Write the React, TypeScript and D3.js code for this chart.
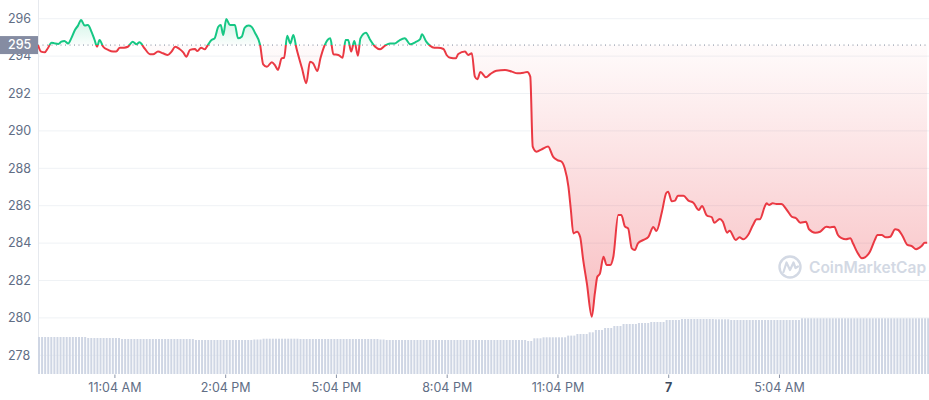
import React from "react";
import * as d3 from "d3";

// ---- data ----
const startTime = new Date(2022, 10, 6, 8, 59);
const totalMinutes = 1448;

// [minutes since start, price]
const priceSeries: [number, number][] = [
  [0,294.59],[5,294.24],[11,294.20],[16,294.42],[22,294.72],[27,294.68],[33,294.65],[38,294.77],[43,294.81],[49,294.68],[54,294.95],[60,295.40],[65,295.63],[70,295.93],[76,295.63],[81,295.66],[87,295.30],[92,294.86],[96,294.50],[100,294.86],[106,294.50],[114,294.33],[122,294.24],[127,294.24],[133,294.45],[140,294.45],[146,294.50],[154,294.77],[160,294.63],[165,294.74],[173,294.42],[182,294.10],[187,294.10],[195,294.24],[203,294.15],[211,294.06],[217,294.24],[223,294.50],[230,294.38],[236,294.20],[241,293.97],[247,294.33],[255,294.38],[259,294.27],[265,294.45],[271,294.36],[276,294.59],[282,294.86],[287,294.95],[293,295.57],[297,295.66],[301,295.13],[306,295.98],[312,295.66],[320,295.66],[325,294.95],
  [331,295.04],[336,295.52],[342,295.63],[347,295.57],[353,295.22],[361,294.59],[366,293.56],[372,293.43],[380,293.67],[385,293.52],[390,293.26],[396,293.88],[400,293.91],[405,295.09],[410,294.68],[415,295.13],[420,294.42],[429,293.35],[436,292.55],[442,293.70],[447,293.62],[454,293.20],[459,293.88],[466,294.59],[475,294.95],[480,294.10],[488,294.06],[495,293.91],[500,294.86],[504,294.86],[509,294.24],[514,294.81],[520,294.02],[524,294.95],[533,295.25],[540,294.86],[548,294.50],[556,294.36],[564,294.56],[572,294.68],[580,294.68],[588,294.86],[596,294.95],[605,294.63],[613,294.74],[621,294.91],[624,295.17],[631,294.77],[637,294.56],[644,294.45],[650,294.45],[659,294.38],[664,294.06],[670,293.91],
  [679,293.88],[683,294.11],[694,294.24],[699,294.06],[705,294.15],[710,292.90],[714,292.76],[719,293.15],[728,292.87],[735,293.04],[745,293.22],[759,293.26],[770,293.17],[779,293.08],[789,293.11],[795,293.15],[800,292.90],[804,289.16],[810,288.89],[819,289.02],[829,289.16],[837,288.62],[844,288.44],[851,288.35],[856,288.00],[862,287.02],[866,285.77],[870,284.52],[876,284.61],[881,284.34],[886,283.10],[892,281.85],[900,280.06],[905,281.32],[909,282.20],[913,282.35],[919,283.27],[924,282.83],[930,282.83],[935,283.27],[943,285.50],[948,285.50],[954,284.88],[959,284.79],[965,283.72],[970,283.63],[975,283.99],[984,284.17],[992,284.33],[1000,284.86],[1005,284.65],[1014,285.68],[1021,286.68],[1024,286.75],[1030,286.24],[1035,286.27],[1040,286.53],[1049,286.53],[1057,286.27],[1065,286.16],[1074,285.77],[1079,285.98],[1087,285.48],[1095,285.38],[1099,285.09],[1108,285.29],[1113,285.14],[1120,284.56],[1124,284.66],[1134,284.17],[1140,284.31],[1146,284.20],[1154,284.43],[1162,284.97],[1168,285.27],[1173,285.27],[1181,285.95],[1184,286.13],[1188,286.04],[1194,286.13],[1200,286.09],[1208,286.09],[1217,285.77],[1225,285.41],[1232,285.33],[1239,285.09],[1248,285.14],[1253,284.74],[1263,284.56],[1271,284.61],[1281,284.88],[1287,284.84],[1294,284.88],[1300,284.43],[1306,284.26],[1313,284.20],[1320,284.26],[1325,283.95],[1331,283.54],[1339,283.19],[1344,283.24],[1352,283.54],[1360,284.17],[1364,284.43],[1371,284.43],[1378,284.31],[1385,284.34],[1393,284.74],[1398,284.70],[1405,284.38],[1413,283.90],[1420,283.84],[1427,283.67],[1436,283.84],[1441,284.02],[1445,284.02],
];

const openPrice = 294.59;

// volume (millions) per 5-minute bar, run-length: [value, number of bars]
const volumeRuns: [number, number][] = [
  [370,16],[360,11],[350,24],[340,19],[345,3],[353,12],[350,26],[345,2],[340,46],[330,2],[357,3],[367,8],[384,3],[400,4],[417,2],[440,3],[460,3],[480,3],[500,5],[510,4],[520,5],[540,5],[550,11],[547,5],[540,23],[557,42],
];
const volumeBarMinutes = 5;

const yTicks = [278, 280, 282, 284, 286, 288, 290, 292, 294, 296];
const xTickMinutes = [125, 305, 485, 665, 845, 1025, 1205];
const xTickLabels = ["11:04 AM", "2:04 PM", "5:04 PM", "8:04 PM", "11:04 PM", "7", "5:04 AM"];

const UP = "#16c784";
const DOWN = "#ea3943";

export default function App() {
  const W = 929, H = 400;
  const left = 38, right = 929, top = 0, bottom = 374;

  const t = (m: number) => d3.timeMinute.offset(startTime, m);
  const x = d3.scaleTime().domain([startTime, t(totalMinutes)]).range([left, right]);
  const y = d3.scaleLinear().domain([277, 297]).range([bottom, top]);
  const yVol = d3.scaleLinear().domain([0, 1000]).range([bottom, bottom - 100]);

  const pts = priceSeries.map(([m, p]) => ({ d: t(m), p }));
  const baseY = y(openPrice);

  const line = d3.line<{ d: Date; p: number }>()
    .x((d) => x(d.d)).y((d) => y(d.p)).curve(d3.curveMonotoneX);
  const area = d3.area<{ d: Date; p: number }>()
    .x((d) => x(d.d)).y0(baseY).y1((d) => y(d.p)).curve(d3.curveMonotoneX);

  const vols: number[] = [];
  volumeRuns.forEach(([v, n]) => { for (let i = 0; i < n; i++) vols.push(v); });

  const font = "Inter, 'Noto Sans', sans-serif";
  const linePath = line(pts) || "";
  const areaPath = area(pts) || "";

  return (
    <svg width={W} height={H} style={{ position: "absolute", left: 0, top: 0, background: "#fff" }} fontFamily={font}>
      <defs>
        <clipPath id="clipUp"><rect x={left} y={top} width={right - left} height={baseY - top} /></clipPath>
        <clipPath id="clipDown"><rect x={left} y={baseY} width={right - left} height={bottom - baseY} /></clipPath>
        <linearGradient id="gUp" gradientUnits="userSpaceOnUse" x1="0" x2="0" y1={y(296)} y2={baseY}>
          <stop offset="0" stopColor={UP} stopOpacity={0.2} />
          <stop offset="1" stopColor={UP} stopOpacity={0.02} />
        </linearGradient>
        <linearGradient id="gDown" gradientUnits="userSpaceOnUse" x1="0" x2="0" y1={baseY} y2={y(280)}>
          <stop offset="0" stopColor={DOWN} stopOpacity={0.02} />
          <stop offset="1" stopColor={DOWN} stopOpacity={0.33} />
        </linearGradient>
      </defs>

      {/* grid */}
      {yTicks.map((v) => (
        <line key={v} x1={left} x2={right} y1={y(v)} y2={y(v)} stroke="#eff2f5" strokeWidth={1} />
      ))}
      <line x1={left + 0.5} x2={left + 0.5} y1={top} y2={bottom} stroke="#e6e9ee" />

      {/* volume */}
      {vols.map((v, i) => {
        const bx = x(t(i * volumeBarMinutes));
        return <rect key={i} x={bx} y={yVol(v)} width={2} height={bottom - yVol(v)} fill="#cfd6e4" />;
      })}

      {/* watermark */}
      <g opacity={1}>
        <circle cx={790} cy={267} r={10.5} fill="none" stroke="#d3d9e4" strokeWidth={2.4} />
        <path d="M783.5,272 L786.5,262.5 L790,270 L793.5,262.5 L795.5,268 L798,266.5" fill="none" stroke="#d3d9e4" strokeWidth={2.2} strokeLinejoin="round" strokeLinecap="round" />
        <text x={809} y={273} fontSize={15.5} fontWeight={600} fill="#d3d9e4">CoinMarketCap</text>
      </g>

      {/* areas */}
      <path d={areaPath} fill="url(#gUp)" clipPath="url(#clipUp)" />
      <path d={areaPath} fill="url(#gDown)" clipPath="url(#clipDown)" />

      {/* baseline */}
      <line x1={left} x2={right} y1={baseY} y2={baseY} stroke="#7d879a" strokeWidth={1} strokeDasharray="1,3.5" />

      {/* lines */}
      <path d={linePath} fill="none" stroke={UP} strokeWidth={2} clipPath="url(#clipUp)" strokeLinejoin="round" />
      <path d={linePath} fill="none" stroke={DOWN} strokeWidth={2} clipPath="url(#clipDown)" strokeLinejoin="round" />

      {/* y labels */}
      {yTicks.map((v) => (
        <text key={v} x={8} y={y(v)} dy="0.35em" fontSize={12.5} fill="#616e85">{v}</text>
      ))}

      {/* open price label */}
      <rect x={0} y={baseY - 9} width={left} height={18} fill="#858ca2" />
      <text x={8} y={baseY} dy="0.35em" fontSize={12.5} fill="#fff" fontWeight={500}>{d3.format(".0f")(openPrice)}</text>

      {/* x axis */}
      {xTickMinutes.map((m, i) => (
        <g key={m}>
          <line x1={x(t(m))} x2={x(t(m))} y1={bottom + 0.5} y2={bottom + 4} stroke="#8a93a6" />
          <text x={x(t(m))} y={388} dy="0.35em" textAnchor="middle" fontSize={12.5}
            fill={xTickLabels[i] === "7" ? "#3c4a5e" : "#616e85"}
            fontWeight={xTickLabels[i] === "7" ? 700 : 400}>{xTickLabels[i]}</text>
        </g>
      ))}
    </svg>
  );
}
